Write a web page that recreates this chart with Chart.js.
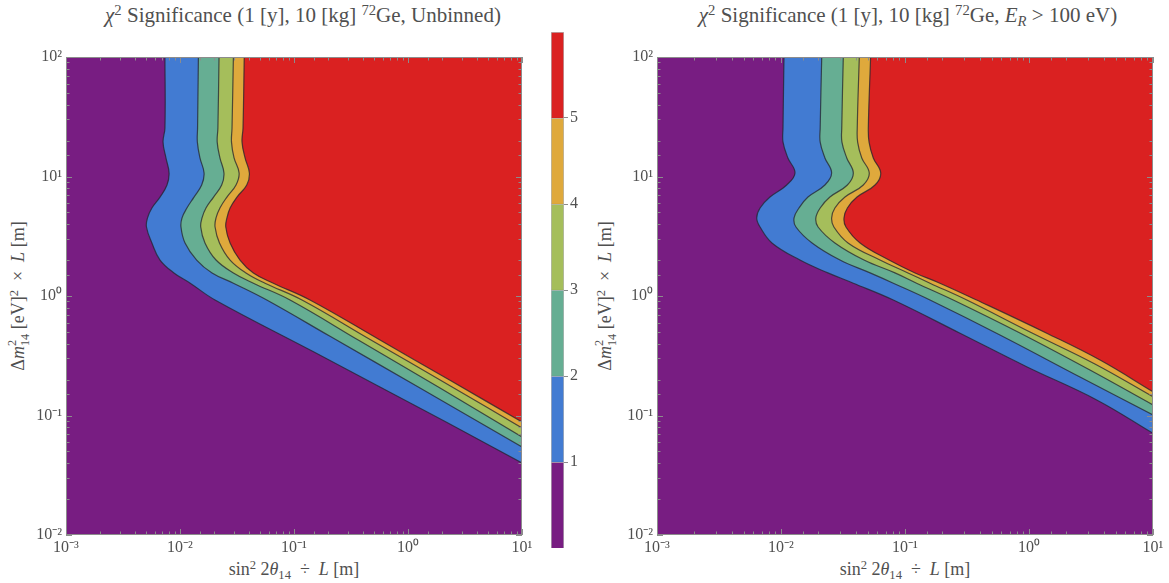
<!DOCTYPE html>
<html>
<head>
<meta charset="utf-8">
<script src="https://cdn.jsdelivr.net/npm/chart.js@4.4.1/dist/chart.umd.min.js"></script>
<style>
  body { margin: 0; background: #fff; width: 1169px; height: 583px; position: relative; overflow: hidden;
         font-family: "Liberation Serif", "DejaVu Serif", serif; color: #505050; }
  canvas { position: absolute; top: 0; }
  .title { position: absolute; top: 3px; font-size: 21px; white-space: nowrap; transform: translateX(-50%); }
  .xlab { position: absolute; top: 559px; font-size: 18px; white-space: nowrap; transform: translateX(-50%); }
  .ylab { position: absolute; top: 296px; font-size: 18px; white-space: nowrap; transform: translate(-50%, -50%) rotate(-90deg); }
  sup { font-size: 0.7em; vertical-align: baseline; position: relative; top: -0.45em; }
  sub { font-size: 0.7em; vertical-align: baseline; position: relative; top: 0.3em; }
  .ss { display: inline-block; font-size: 0.68em; line-height: 1.05; vertical-align: -0.45em; }
</style>
</head>
<body>
<div class="title" style="left:303px"><i>χ</i><sup>2</sup> Significance (1 [y], 10 [kg] <sup>72</sup>Ge, Unbinned)</div>
<div class="title" style="left:908px"><i>χ</i><sup>2</sup> Significance (1 [y], 10 [kg] <sup>72</sup>Ge, <i>E</i><sub><i>R</i></sub> &gt; 100 eV)</div>
<div class="xlab" style="left:294px">sin<sup>2</sup> 2<i>θ</i><sub>14</sub> &nbsp;÷&nbsp; <i>L</i> [m]</div>
<div class="xlab" style="left:905px">sin<sup>2</sup> 2<i>θ</i><sub>14</sub> &nbsp;÷&nbsp; <i>L</i> [m]</div>
<div class="ylab" style="left:19px">Δ<i>m</i><span class="ss">2<br>14</span> [eV]<sup>2</sup> &nbsp;×&nbsp; <i>L</i> [m]</div>
<div class="ylab" style="left:606px">Δ<i>m</i><span class="ss">2<br>14</span> [eV]<sup>2</sup> &nbsp;×&nbsp; <i>L</i> [m]</div>

<canvas id="left" width="540" height="583" style="left:0"></canvas>
<canvas id="bar" width="50" height="583" style="left:540px"></canvas>
<canvas id="right" width="579" height="583" style="left:590px"></canvas>

<script>
// axis ranges and tick labels
const xDecades = [0.001, 0.01, 0.1, 1, 10]
const xTickLabels = ['10⁻³', '10⁻²', '10⁻¹', '10⁰', '10¹']
const yDecades = [0.01, 0.1, 1, 10, 100]
const yTickLabels = ['10⁻²', '10⁻¹', '10⁰', '10¹', '10²']
const colorbarTicks = [1, 2, 3, 4, 5]
const bandColors = ['#781d82', '#427bd2', '#66ae93', '#a5be5b', '#dfa93c', '#da2121']

// contour boundaries, unbinned panel (level 1..5), top edge down to the right edge
const unbinned1X = [0.00738, 0.00738, 0.0071, 0.00753, 0.00802, 0.00769, 0.00668, 0.00567, 0.00519, 0.00508, 0.00567, 0.00668, 0.00885, 0.0123, 0.0203, 0.147, 0.568, 2.2, 10]
const unbinned1Y = [100, 25.5, 19.4, 14.3, 10.7, 8.49, 6.73, 5.45, 4.5, 3.78, 2.78, 2.0, 1.56, 1.28, 0.926, 0.343, 0.173, 0.0873, 0.0401]
const unbinned2X = [0.0145, 0.01426, 0.0142, 0.01496, 0.01626, 0.01549, 0.01327, 0.0115, 0.01042, 0.0102, 0.01107, 0.014, 0.0191, 0.0294, 0.0577, 0.207, 1.274, 10]
const unbinned2Y = [100, 25.5, 19.4, 14.3, 10.7, 8.49, 6.73, 5.45, 4.5, 3.78, 2.78, 2.0, 1.56, 1.28, 0.926, 0.46, 0.17, 0.0545]
const unbinned3X = [0.022, 0.0215, 0.0212, 0.0224, 0.0243, 0.0232, 0.0197, 0.0169, 0.0156, 0.0152, 0.01656, 0.0207, 0.0294, 0.044, 0.0923, 0.379, 1.91, 10]
const unbinned3Y = [100, 25.5, 19.4, 14.3, 10.7, 8.49, 6.73, 5.45, 4.5, 3.78, 2.78, 2.0, 1.56, 1.28, 0.926, 0.42, 0.17, 0.0661]
const unbinned4X = [0.0294, 0.0286, 0.0283, 0.0298, 0.033, 0.031, 0.0258, 0.0224, 0.0207, 0.0203, 0.0222, 0.0275, 0.0379, 0.0557, 0.1175, 0.465, 2.335, 10]
const unbinned4Y = [100, 25.5, 19.4, 14.3, 10.7, 8.49, 6.73, 5.45, 4.5, 3.78, 2.78, 2.0, 1.56, 1.28, 0.926, 0.433, 0.1776, 0.0786]
const unbinned5X = [0.0366, 0.0357, 0.035, 0.0372, 0.0406, 0.0385, 0.0316, 0.0275, 0.0258, 0.0252, 0.0275, 0.0336, 0.044, 0.0658, 0.138, 0.568, 2.335, 10]
const unbinned5Y = [100, 25.5, 19.4, 14.3, 10.7, 8.49, 6.73, 5.45, 4.5, 3.78, 2.78, 2.0, 1.56, 1.28, 0.926, 0.428, 0.197, 0.0883]

// contour boundaries, E_R > 100 eV panel
const cut1X = [0.01057, 0.01038, 0.01038, 0.01137, 0.01297, 0.01112, 0.00815, 0.00678, 0.00637, 0.00678, 0.00845, 0.01422, 0.0239, 0.0383, 0.0805, 0.278, 0.957, 3.516, 10]
const cut1Y = [100, 25.5, 19.4, 14.3, 10.7, 8.49, 6.73, 5.45, 4.5, 3.78, 2.78, 2.0, 1.56, 1.28, 0.926, 0.488, 0.256, 0.135, 0.071]
const cut2X = [0.0213, 0.0207, 0.0207, 0.0226, 0.0256, 0.0226, 0.0165, 0.01396, 0.01274, 0.0132, 0.0178, 0.0299, 0.0523, 0.0805, 0.159, 0.583, 2.577, 10]
const cut2Y = [100, 25.5, 19.4, 14.3, 10.7, 8.49, 6.73, 5.45, 4.5, 3.78, 2.78, 2.0, 1.56, 1.28, 0.926, 0.472, 0.21, 0.101]
const cut3X = [0.0318, 0.0309, 0.031, 0.0339, 0.0383, 0.0343, 0.0248, 0.0207, 0.0191, 0.0199, 0.0272, 0.0467, 0.083, 0.124, 0.245, 0.845, 3.1, 10]
const cut3Y = [100, 25.5, 19.4, 14.3, 10.7, 8.49, 6.73, 5.45, 4.5, 3.78, 2.78, 2.0, 1.56, 1.28, 0.926, 0.49, 0.24, 0.1225]
const cut4X = [0.0428, 0.0412, 0.0415, 0.0448, 0.0515, 0.0461, 0.0328, 0.0272, 0.0256, 0.0267, 0.0347, 0.0628, 0.1057, 0.159, 0.315, 1.019, 3.4, 10]
const cut4Y = [100, 25.5, 19.4, 14.3, 10.7, 8.49, 6.73, 5.45, 4.5, 3.78, 2.78, 2.0, 1.56, 1.28, 0.926, 0.5, 0.27, 0.1436]
const cut5X = [0.0528, 0.0506, 0.0513, 0.0555, 0.0637, 0.0573, 0.041, 0.0343, 0.0322, 0.0334, 0.0434, 0.0743, 0.1205, 0.191, 0.378, 1.39, 3.74, 10]
const cut5Y = [100, 25.5, 19.4, 14.3, 10.7, 8.49, 6.73, 5.45, 4.5, 3.78, 2.78, 2.0, 1.56, 1.28, 0.926, 0.488, 0.291, 0.158]

const X_MIN = 0.001, X_MAX = 10, Y_MIN = 0.01, Y_MAX = 100
const lineColor = 'rgba(35, 35, 45, 0.75)'
const frameColor = '#8c8c8c'
const textColor = '#505050'
const tickFont = { family: '"Liberation Serif", serif', size: 16 }

function decadeLabel(v, decades, labels) {
  const i = decades.findIndex(d => Math.abs(v - d) / d < 1e-6)
  return i >= 0 ? labels[i] : ''
}

// purple background for the plot area
const areaFill = {
  id: 'areaFill',
  beforeDatasetsDraw(chart, args, opts) {
    if (!opts.color) return
    const { ctx, chartArea: a } = chart
    ctx.save()
    ctx.fillStyle = opts.color
    ctx.fillRect(a.left, a.top, a.width, a.height)
    ctx.restore()
  }
}

// Mathematica-like frame with inward ticks on all four sides
const frameTicks = {
  id: 'frameTicks',
  afterDatasetsDraw(chart) {
    const { ctx, chartArea: a, scales } = chart
    ctx.save()
    ctx.strokeStyle = frameColor
    ctx.lineWidth = 1
    ctx.strokeRect(a.left + 0.5, a.top + 0.5, a.width - 1, a.height - 1)
    const isMajor = v => Math.abs(Math.log10(v) - Math.round(Math.log10(v))) < 1e-6
    ctx.beginPath()
    scales.x.ticks.forEach(t => {
      const px = Math.round(scales.x.getPixelForValue(t.value)) + 0.5
      const len = isMajor(t.value) ? 6 : 3.5
      ctx.moveTo(px, a.bottom); ctx.lineTo(px, a.bottom - len)
      ctx.moveTo(px, a.top); ctx.lineTo(px, a.top + len)
    })
    scales.y.ticks.forEach(t => {
      const py = Math.round(scales.y.getPixelForValue(t.value)) + 0.5
      const len = isMajor(t.value) ? 6 : 3.5
      ctx.moveTo(a.left, py); ctx.lineTo(a.left + len, py)
      ctx.moveTo(a.right, py); ctx.lineTo(a.right - len, py)
    })
    ctx.stroke()
    ctx.restore()
  }
}

// one contour: the line plus the band to its right, filled out to the right edge
function contourDataset(xs, ys, level) {
  return {
    data: xs.map((x, k) => ({ x, y: ys[k] })),
    backgroundColor: bandColors[level],
    borderColor: lineColor,
    borderWidth: 1.2,
    fill: { value: X_MAX },
    tension: 0.4,
    pointRadius: 0,
    order: 6 - level
  }
}

function panel(canvasId, contours, yWidth, rightPad) {
  return new Chart(document.getElementById(canvasId), {
    type: 'line',
    data: { datasets: contours.map(([xs, ys], i) => contourDataset(xs, ys, i + 1)) },
    plugins: [areaFill, frameTicks],
    options: {
      indexAxis: 'y',
      responsive: false,
      animation: false,
      layout: { padding: { top: 57, right: rightPad, left: 0, bottom: 0 } },
      plugins: { legend: { display: false }, tooltip: { enabled: false }, areaFill: { color: bandColors[0] } },
      scales: {
        x: {
          type: 'logarithmic', position: 'bottom', min: X_MIN, max: X_MAX,
          grid: { display: false, drawTicks: false },
          border: { display: false },
          afterFit: s => { s.height = 48 },
          ticks: { autoSkip: false, maxRotation: 0, padding: 3, color: textColor, font: tickFont,
                   callback: v => decadeLabel(v, xDecades, xTickLabels) }
        },
        y: {
          type: 'logarithmic', position: 'left', min: Y_MIN, max: Y_MAX,
          grid: { display: false, drawTicks: false },
          border: { display: false },
          afterFit: s => { s.width = yWidth },
          ticks: { autoSkip: false, padding: 4, color: textColor, font: tickFont,
                   callback: v => decadeLabel(v, yDecades, yTickLabels) }
        }
      }
    }
  })
}

panel('left', [[unbinned1X, unbinned1Y], [unbinned2X, unbinned2Y], [unbinned3X, unbinned3Y],
               [unbinned4X, unbinned4Y], [unbinned5X, unbinned5Y]], 66, 18)
panel('right', [[cut1X, cut1Y], [cut2X, cut2Y], [cut3X, cut3Y],
                [cut4X, cut4Y], [cut5X, cut5Y]], 67, 16)

// colour legend: one stacked bar, a unit block per level band
new Chart(document.getElementById('bar'), {
  type: 'bar',
  data: {
    labels: [''],
    datasets: bandColors.map(c => ({
      data: [1], backgroundColor: c, borderColor: 'rgba(40,40,40,0.35)', borderWidth: 1,
      barPercentage: 1, categoryPercentage: 1
    }))
  },
  options: {
    responsive: false,
    animation: false,
    layout: { padding: { top: 32, bottom: 35, left: 11, right: 0 } },
    plugins: { legend: { display: false }, tooltip: { enabled: false } },
    scales: {
      x: { stacked: true, display: false },
      y: {
        stacked: true, position: 'right', min: 0, max: bandColors.length,
        afterFit: s => { s.width = 26 },
        afterBuildTicks: s => { s.ticks = colorbarTicks.map(v => ({ value: v })) },
        border: { display: false },
        grid: { drawOnChartArea: false, tickLength: 4, color: frameColor },
        ticks: { padding: 2, color: textColor, font: tickFont }
      }
    }
  }
})
</script>
</body>
</html>
